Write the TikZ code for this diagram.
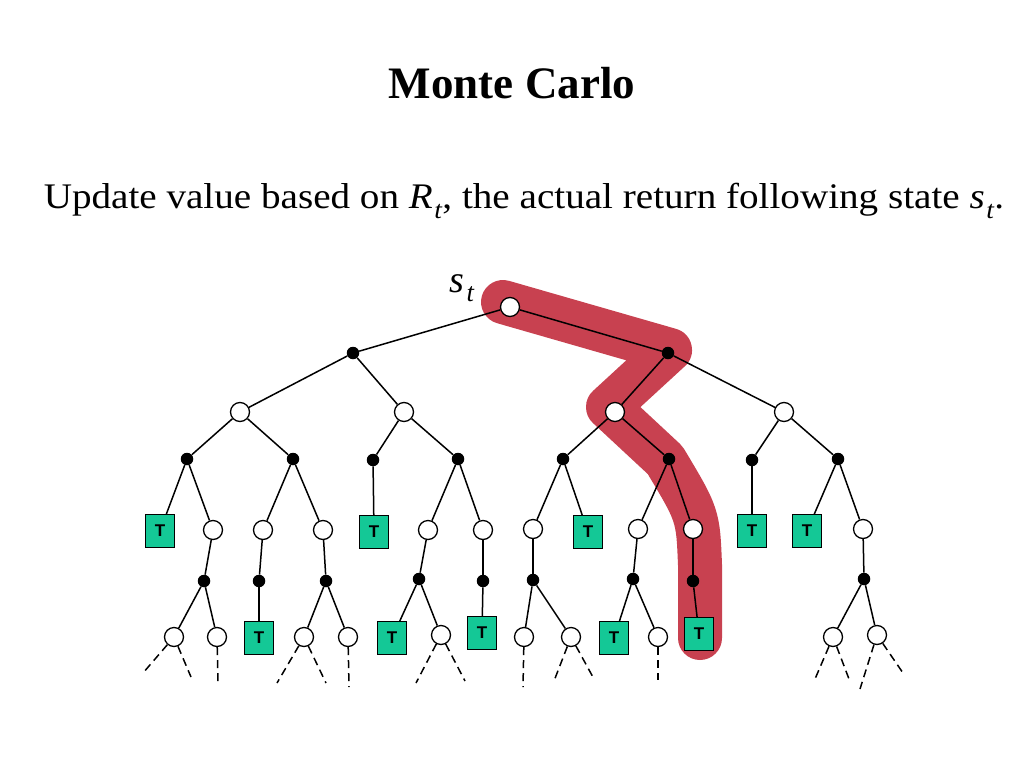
\documentclass[tikz,border=0pt]{standalone}
\usepackage{fontspec}
\setmainfont{Liberation Serif}
\newfontfamily\tfont{Liberation Sans}
\usepackage{xcolor}
\definecolor{termgreen}{RGB}{20,200,150}
\definecolor{pathred}{RGB}{200,65,80}
\newcommand\isub[2]{\textit{#1}\kern0.04em\raisebox{-0.28em}{\scalebox{0.7}{\textit{#2}}}}

\begin{document}
\begin{tikzpicture}[x=1pt,y=-1pt]
\tikzset{
	hollow node/.style = {circle, draw, fill = white, inner sep = 0, minimum size = 19, line width = 1.3},
	solid node/.style = {circle, fill = black, inner sep = 0, minimum size = 12.5},
	term node/.style = {draw, fill = termgreen, inner sep = 0, minimum width = 29, minimum height = 33, line width = 1,
		font = \tfont\bfseries\fontsize{17}{17}\selectfont},
	edge/.style = {line width = 1.5},
	tail/.style = {edge, dash pattern = on 8pt off 5pt},
}
\useasboundingbox (0,0) rectangle (1024,768);

\node[font = \bfseries\fontsize{45}{54}\selectfont, anchor = base] (title) at (512,98) {Monte Carlo};
\node[font = \fontsize{36}{42}\selectfont, anchor = base, xscale = 1.087] (sub) at (524,208)
	{Update value based on \isub{R}{t}, the actual return following state \isub{s}{t}.};

% the sampled episode
\draw[pathred, line width = 44, line cap = round, line join = round]
	(503,302) -- (670,350) -- (608,407) -- (665,460) .. controls (698,515) .. (700,565) -- (700,638);

% states
\foreach \n/\x/\y in {0/510/307, 2-1/240/412, 2-2/404/412, 2-3/615/412, 2-4/784/412,
	4-2/213/530, 4-3/263/530, 4-4/323/530, 4-6/428/530, 4-7/483/530, 4-8/533/529,
	4-10/638/529, 4-11/693/529, 4-14/863/529,
	6-1/174/637, 6-2/217/637, 6-4/304/637, 6-5/348/637, 6-7/441/635, 6-9/524/637,
	6-10/571/637, 6-12/658/637, 6-14/833/637, 6-15/877/635}
	\node[hollow node] (\n) at (\x,\y) {};
% actions
\foreach \n/\x/\y in {1-1/353/353, 1-2/668/353,
	3-1/187/459, 3-2/293/459, 3-3/373/460, 3-4/458/459, 3-5/563/459, 3-6/669/459, 3-7/752/460, 3-8/838/459,
	5-1/204/581, 5-2/259/581, 5-3/326/581, 5-4/419/579, 5-5/483/581, 5-6/533/580, 5-7/633/579, 5-8/693/581, 5-9/864/579}
	\node[solid node] (\n) at (\x,\y) {};
% terminals
\foreach \n/\x/\y in {4-1/160/531, 4-5/374/532, 4-9/588/532, 4-12/752/531, 4-13/807/531,
	6-3/259/638, 6-6/392/638, 6-8/482/633, 6-11/614/638, 6-13/699/634}
	\node[term node] (\n) at (\x,\y) {T};

\foreach \a/\b in {0/1-1, 0/1-2, 1-1/2-1, 1-1/2-2, 1-2/2-3, 1-2/2-4,
	2-1/3-1, 2-1/3-2, 2-2/3-3, 2-2/3-4, 2-3/3-5, 2-3/3-6, 2-4/3-7, 2-4/3-8,
	3-1/4-1, 3-1/4-2, 3-2/4-3, 3-2/4-4, 3-3/4-5, 3-4/4-6, 3-4/4-7, 3-5/4-8, 3-5/4-9,
	3-6/4-10, 3-6/4-11, 3-7/4-12, 3-8/4-13, 3-8/4-14,
	4-2/5-1, 4-3/5-2, 4-4/5-3, 4-6/5-4, 4-7/5-5, 4-8/5-6, 4-10/5-7, 4-11/5-8, 4-14/5-9,
	5-1/6-1, 5-1/6-2, 5-2/6-3, 5-3/6-4, 5-3/6-5, 5-4/6-6, 5-4/6-7, 5-5/6-8,
	5-6/6-9, 5-6/6-10, 5-7/6-11, 5-7/6-12, 5-8/6-13, 5-9/6-14, 5-9/6-15}
	\draw[edge] (\a) -- (\b);

% episodes go on
\foreach \n/\a/\x/\y in {1/6-1/143/673, 2/6-1/191/677, 3/6-2/218/682, 4/6-4/277/683, 5/6-4/326/683,
	6/6-5/349/687, 7/6-7/416/683, 8/6-7/465/681, 9/6-9/523/687, 10/6-10/554/681,
	11/6-10/594/679, 12/6-12/658/680, 13/6-14/815/679, 14/6-14/849/679, 15/6-15/860/689, 16/6-15/903/673}
{
	\coordinate (t\n) at (\x,\y);
	\draw[tail] (\a) -- (t\n);
}

\node[font = \itshape\fontsize{38}{40}\selectfont, anchor = base west] (lbl) at (446,292) {s\kern0.06em\raisebox{-0.26em}{\scalebox{0.7}{t}}};
\end{tikzpicture}
\end{document}
